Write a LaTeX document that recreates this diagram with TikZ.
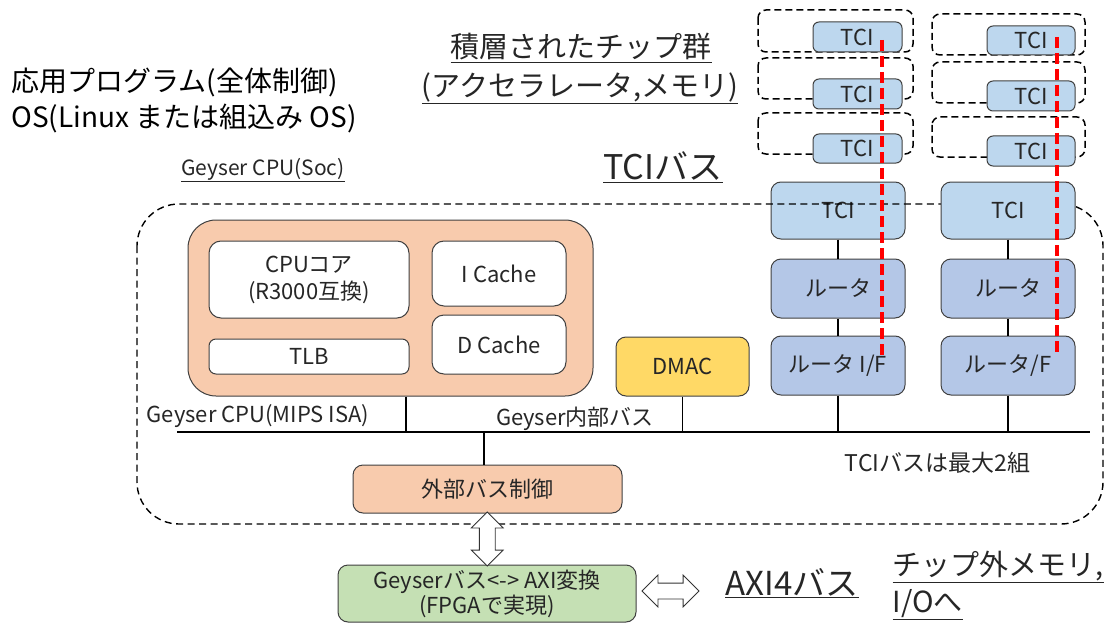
\documentclass[tikz,border=0pt]{standalone}
\usepackage{fontspec}
\setmainfont{Noto Sans CJK JP}
\usetikzlibrary{positioning,calc,shapes.arrows}
\definecolor{cpuorange}{HTML}{F8CBAD}
\definecolor{tciblue}{HTML}{BDD7EE}
\definecolor{routerblue}{HTML}{B4C7E7}
\definecolor{dmacyellow}{HTML}{FFD966}
\definecolor{fpgagreen}{HTML}{C5E0B4}
\definecolor{textgray}{HTML}{262626}
\newcommand{\fs}[2]{\fontsize{#1}{#2}\selectfont}

\begin{document}
\begin{tikzpicture}[x=1pt, y=-1pt, text=textgray,
    blk/.style={draw=black!75, line width=1pt, rounded corners=10pt, inner sep=0pt, align=center, font=\fs{22}{27}},
    stackbox/.style={draw=black, dash pattern=on 7pt off 4pt, line width=1.5pt, rounded corners=8pt},
    frame/.style={draw=black, dash pattern=on 7pt off 4.5pt, line width=1.4pt, rounded corners=42pt},
    tsv/.style={draw=red, line width=3.5pt, dash pattern=on 11pt off 5pt},
    wire/.style={draw=black, line width=1.3pt},
    dblarrow/.style={double arrow, draw=black!80, fill=white, line width=0.8pt, minimum height=54pt, inner xsep=0pt, inner ysep=7.5pt, double arrow head extend=8pt, font=\fs{1}{1}}]
  \useasboundingbox (0,0) rectangle (1105,623);

  % labels top left
  \node at (8,82) [anchor=west, font=\fs{28}{30}, text=black] (app) {応用プログラム(全体制御)};
  \node at (8,118) [anchor=west, font=\fs{28}{30}, text=black] (os) {OS(Linux または組込み OS)};
  \node at (263,170) [font=\fs{21}{24}] (soc) {\underline{Geyser CPU(Soc)}};
  \node at (581,48) [font=\fs{29}{32}] (stack1) {\underline{積層されたチップ群}};
  \node at (580,88) [font=\fs{29}{32}] (stack2) {\underline{(アクセラレータ,メモリ)}};
  \node at (663,167) [font=\fs{34}{36}] (tcibus) {\underline{TCIバス}};

  % stacked chips, left
  \draw[stackbox] (758,10) rectangle (913,52);
  \draw[stackbox] (758,58) rectangle (913,99);
  \draw[stackbox] (758,113) rectangle (913,154);
  \node at (857.5,37) [blk, fill=tciblue, rounded corners=6pt, minimum width=89pt, minimum height=30pt] (chipA1) {TCI};
  \node at (857.5,94) [blk, fill=tciblue, rounded corners=6pt, minimum width=89pt, minimum height=30pt] (chipA2) {TCI};
  \node at (857.5,148.5) [blk, fill=tciblue, rounded corners=6pt, minimum width=89pt, minimum height=29pt] (chipA3) {TCI};
  % stacked chips, right
  \draw[stackbox] (932,14) rectangle (1085,55);
  \draw[stackbox] (932,62) rectangle (1085,103);
  \draw[stackbox] (932,117) rectangle (1085,157);
  \node at (1031,40.5) [blk, fill=tciblue, rounded corners=6pt, minimum width=88pt, minimum height=29pt] (chipB1) {TCI};
  \node at (1031,96) [blk, fill=tciblue, rounded corners=6pt, minimum width=88pt, minimum height=30pt] (chipB2) {TCI};
  \node at (1031,151) [blk, fill=tciblue, rounded corners=6pt, minimum width=88pt, minimum height=30pt] (chipB3) {TCI};

  % TCI column A (under the frame line)
  \node at (838,210.5) [blk, fill=tciblue, minimum width=134pt, minimum height=57pt] (tciA) {TCI};

  % Geyser CPU(Soc) frame
  \draw[frame] (137,204) rectangle (1103,524);

  % TCI column B
  \node at (1008,210.5) [blk, fill=tciblue, minimum width=134pt, minimum height=57pt] (tciB) {TCI};
  \node at (838,288.5) [blk, fill=routerblue, minimum width=134pt, minimum height=59pt] (rtA) {ルータ};
  \node at (838,365.5) [blk, fill=routerblue, minimum width=134pt, minimum height=59pt] (rifA) {ルータ I/F};
  \node at (1008,288.5) [blk, fill=routerblue, minimum width=134pt, minimum height=59pt] (rtB) {ルータ};
  \node at (1008,365.5) [blk, fill=routerblue, minimum width=134pt, minimum height=59pt] (rifB) {ルータ/F};

  % CPU block
  \node at (390.5,308) [blk, fill=cpuorange, rounded corners=28pt, minimum width=405pt, minimum height=176pt] (cpu) {};
  \node at (309,279.5) [blk, fill=white, rounded corners=12pt, minimum width=200pt, minimum height=77pt] (core) {CPUコア\\(R3000互換)};
  \node at (309,356.5) [blk, fill=white, rounded corners=7pt, minimum width=200pt, minimum height=35pt] (tlb) {TLB};
  \node at (499,273.5) [blk, fill=white, rounded corners=12pt, minimum width=134pt, minimum height=65pt] (icache) {I Cache};
  \node at (499,344.5) [blk, fill=white, rounded corners=12pt, minimum width=134pt, minimum height=59pt] (dcache) {D Cache};
  \node at (682.5,366.5) [blk, fill=dmacyellow, minimum width=133pt, minimum height=59pt] (dmac) {DMAC};
  \node at (487.5,489) [blk, fill=cpuorange, minimum width=269pt, minimum height=48pt] (extbus) {外部バス制御};

  % internal bus
  \coordinate (busL) at (177,432);
  \coordinate (busR) at (1090,432);
  \draw[wire] (busL) -- (busR);
  \draw[wire] ([xshift=15.5pt]cpu.south) -- ([xshift=15.5pt]cpu.south |- busL);
  \draw[wire] (dmac.south) -- (dmac.south |- busL);
  \draw[wire] (rifA.south) -- (rifA.south |- busL);
  \draw[wire] (rifB.south) -- (rifB.south |- busL);
  \draw[wire] (tciA.south) -- (rtA.north);
  \draw[wire] (rtA.south) -- (rifA.north);
  \draw[wire] (tciB.south) -- (rtB.north);
  \draw[wire] (rtB.south) -- (rifB.north);
  \draw[wire] ([xshift=-3.5pt]extbus.north |- busL) -- ([xshift=-3.5pt]extbus.north);

  \node at (258,416) [font=\fs{22}{24}] (isa) {Geyser CPU(MIPS ISA)};
  \node at (575,419) [font=\fs{22}{24}] (inbus) {Geyser内部バス};
  \node at (937.5,463) [font=\fs{23}{25}] (maxtwo) {TCIバスは最大2組};

  % TSV lines through the stack
  \coordinate (tsvA1) at (882,40);
  \coordinate (tsvA2) at (882,355);
  \coordinate (tsvB1) at (1057,37);
  \coordinate (tsvB2) at (1057,353);
  \draw[tsv] (tsvA1) -- (tsvA2);
  \draw[tsv] (tsvB1) -- (tsvB2);

  % FPGA side
  \node at (487,593.5) [blk, fill=fpgagreen, minimum width=298pt, minimum height=57pt, font=\fs{22}{25}] (conv) {Geyserバス<-> AXI変換\\(FPGAで実現)};
  \node at ($(extbus.south)!0.5!(conv.north)$) [dblarrow, rotate=90] (vlink) {};
  \node at (670.5,591) [dblarrow, minimum height=57pt] (hlink) {};
  \node at (792,583) [font=\fs{33}{36}] (axi) {\underline{AXI4バス}};
  \node at (889,567) [anchor=west, font=\fs{29}{32}] (ext1) {\underline{チップ外メモリ,}};
  \node at (889,605) [anchor=west, font=\fs{29}{32}] (ext2) {\underline{I/Oへ}};
\end{tikzpicture}
\end{document}
